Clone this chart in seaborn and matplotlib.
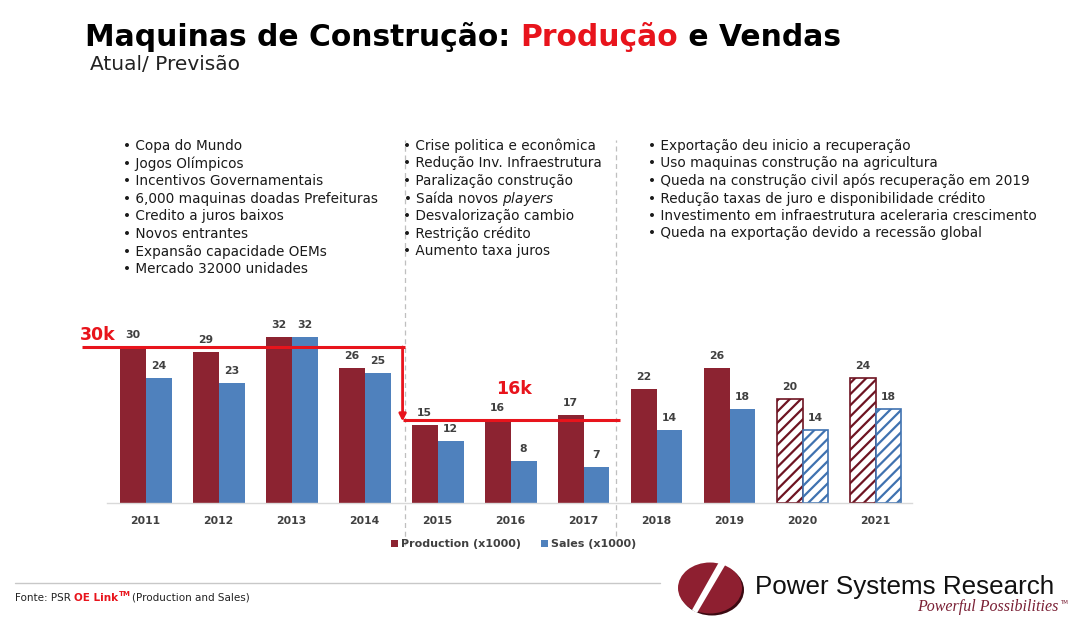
import matplotlib
matplotlib.use("Agg")
import matplotlib.pyplot as plt
import seaborn as sns
import pandas as pd
from matplotlib.patches import Ellipse, Polygon, Patch
from matplotlib.lines import Line2D

# ---------------- data ----------------
years = ["2011", "2012", "2013", "2014", "2015", "2016", "2017", "2018", "2019", "2020", "2021"]
production = [30, 29, 32, 26, 15, 16, 17, 22, 26, 20, 24]
sales = [24, 23, 32, 25, 12, 8, 7, 14, 18, 14, 18]
forecast_years = ["2020", "2021"]
series_names = ["Production (x1000)", "Sales (x1000)"]
level_high = 30
level_low = 16
level_labels = ["30k", "16k"]

bullets_1 = ["Copa do Mundo", "Jogos Olímpicos", "Incentivos Governamentais",
             "6,000 maquinas doadas Prefeituras", "Credito a juros baixos",
             "Novos entrantes", "Expansão capacidade OEMs", "Mercado 32000 unidades"]
bullets_2 = ["Crise politica e econômica", "Redução Inv. Infraestrutura",
             "Paralização construção", "Saída novos $\\it{players}$",
             "Desvalorização cambio", "Restrição crédito", "Aumento taxa juros"]
bullets_3 = ["Exportação deu inicio a recuperação",
             "Uso maquinas construção na agricultura",
             "Queda na construção civil após recuperação em 2019",
             "Redução taxas de juro e disponibilidade crédito",
             "Investimento em infraestrutura aceleraria crescimento",
             "Queda na exportação devido a recessão global"]

df = pd.DataFrame({
    "year": years * 2,
    "series": [series_names[0]] * len(years) + [series_names[1]] * len(years),
    "value": production + sales,
})

# ---------------- style ----------------
W, H = 1080, 627
PROD_C = "#8c2331"
SALES_C = "#4f81bd"
RED = "#e8141c"
GRAY_TXT = "#404040"

sns.set_theme(style="white")
plt.rcParams["font.family"] = ["DejaVu Sans"]
plt.rcParams["hatch.linewidth"] = 1.6

def px(x):
    return x / W

def py(y):
    return 1 - y / H

fig = plt.figure(figsize=(W / 100, H / 100), dpi=100)
fig.patch.set_facecolor("white")

ax_bottom, ax_top = 503, 295
ax_left, ax_right = 107, 912
ax = fig.add_axes([px(ax_left), py(ax_bottom), (ax_right - ax_left) / W, (ax_bottom - ax_top) / H])

sns.barplot(data=df, x="year", y="value", hue="series", order=years,
            hue_order=series_names, palette=[PROD_C, SALES_C], width=0.71,
            saturation=1, ax=ax, legend=False, edgecolor="none", linewidth=0)

hatch_edge = ["#6e1422", "#3f72b0"]
for ci, cont in enumerate(ax.containers):
    for yi, bar in enumerate(cont.patches):
        if years[yi] in forecast_years:
            bar.set_facecolor("white")
            bar.set_edgecolor(hatch_edge[ci])
            bar.set_hatch("///")
            bar.set_linewidth(1.2)
    ax.bar_label(cont, fmt="%d", padding=5, fontsize=7.8, fontweight="bold", color=GRAY_TXT)

ax.set_xlim(-0.53, 10.5)
ax.set_ylim(0, (ax_bottom - ax_top) / 5.2)
ax.set_xlabel("")
ax.set_ylabel("")
ax.set_yticks([])
for s in ["left", "right", "top"]:
    ax.spines[s].set_visible(False)
ax.spines["bottom"].set_color("#d9d9d9")
ax.spines["bottom"].set_linewidth(1)
ax.tick_params(axis="x", length=0, pad=9)
for t in ax.get_xticklabels():
    t.set_fontsize(7.8)
    t.set_fontweight("bold")
    t.set_color(GRAY_TXT)

# dashed separators (x in data, y in axes fraction)
trans = ax.get_xaxis_transform()
for xs, y0 in [(3.55, -0.2), (6.45, -0.16)]:
    ax.plot([xs, xs], [y0, (ax_bottom - 140) / (ax_bottom - ax_top)], transform=trans,
            color="#bfbfbf", lw=0.9, ls=(0, (4, 3)), clip_on=False, zorder=0)

# red level lines
x_left = (82 - 146) / 73
x_step = 3.52
x_end = 6.5
ax.plot([x_left, x_step + 0.03], [level_high, level_high], color=RED, lw=2.2, clip_on=False, zorder=5,
        solid_capstyle="butt")
ax.annotate("", xy=(x_step, level_low - 0.3), xytext=(x_step, level_high),
            arrowprops=dict(arrowstyle="-|>", color=RED, lw=2.0, mutation_scale=10,
                            shrinkA=0, shrinkB=0), zorder=5, annotation_clip=False)
ax.plot([x_step, x_end], [level_low, level_low], color=RED, lw=2.2, clip_on=False, zorder=5,
        solid_capstyle="butt")
ax.text(x_left - 0.03, level_high + 0.5, level_labels[0], color=RED, fontsize=12.5, fontweight="bold",
        ha="left", va="bottom")
ax.text(5.05, 22.0, level_labels[1], color=RED, fontsize=12.5, fontweight="bold",
        ha="center", va="center")

# legend
handles = [Patch(facecolor=PROD_C, edgecolor="none"), Patch(facecolor=SALES_C, edgecolor="none")]
leg = fig.legend(handles, series_names, loc="center", bbox_to_anchor=(px(514), py(544)), ncol=2,
                 frameon=False, handlelength=0.6, handleheight=0.6, handletextpad=0.3,
                 columnspacing=1.8, prop=dict(size=8, weight="bold"))
for t in leg.get_texts():
    t.set_color(GRAY_TXT)

# ---------------- titles ----------------
fig.canvas.draw()
renderer = fig.canvas.get_renderer()

def chain(pieces, x0, y, **common):
    x = x0
    arts = []
    for txt, kw in pieces:
        k = dict(common)
        k.update(kw)
        t = fig.text(px(x), py(y), txt, ha="left", va="baseline", **k)
        bb = t.get_window_extent(renderer)
        x += bb.width
        arts.append(t)
    return arts, x

title_pieces = [("Maquinas de Construção: ", dict(color="black")),
                ("Produção", dict(color=RED)),
                (" e Vendas", dict(color="black"))]
# fit title width to reference (~757 px)
fs = 20
tmp, xe = chain(title_pieces, 85, 46, fontsize=fs, fontweight="bold")
wtot = xe - 85
for t in tmp:
    t.remove()
fs = fs * 757 / wtot
chain(title_pieces, 85, 46, fontsize=fs, fontweight="bold")

fig.text(px(90), py(70), "Atual/ Previsão", fontsize=14.5, color="#222222", ha="left", va="baseline")

# ---------------- bullet columns ----------------
def bullets(lines, x, y0, dy):
    for i, line in enumerate(lines):
        fig.text(px(x), py(y0 + i * dy), "• " + line, fontsize=9.8,
                 color="#1a1a1a", ha="left", va="center")

bullets(bullets_1, 123, 146, 17.6)
bullets(bullets_2, 403, 146, 17.5)
bullets(bullets_3, 648, 146, 17.5)

# ---------------- footer ----------------
fig.add_artist(Line2D([px(15), px(660)], [py(583), py(583)], color="#c8c8c8", lw=1))
_, xe = chain([("Fonte: PSR ", dict(color="#222222")),
               ("OE Link", dict(color=RED, fontweight="bold"))], 15, 601, fontsize=7.5)
xtm = xe + 0.5
ttm = fig.text(px(xtm), py(596), "TM", fontsize=5, color=RED, fontweight="bold", ha="left", va="baseline")
wtm = ttm.get_window_extent(renderer).width
fig.text(px(xtm + wtm + 1), py(601), "(Production and Sales)", fontsize=7.5, color="#222222",
         ha="left", va="baseline")

# logo
fig.add_artist(Ellipse((px(712), py(590)), 64 / W, 51 / H, facecolor="#3b0a12", edgecolor="none"))
fig.add_artist(Ellipse((px(710), py(588)), 64 / W, 51 / H, facecolor="#8e1f30", edgecolor="none"))
fig.add_artist(Polygon([(px(719), py(562)), (px(727), py(562)), (px(697), py(613)), (px(692), py(610))],
                       closed=True, facecolor="white", edgecolor="none"))

t_psr = fig.text(px(755), py(594), "Power Systems Research", fontsize=20, color="#111111",
                 family="Liberation Sans", ha="left", va="baseline")
wps = t_psr.get_window_extent(renderer).width
t_psr.set_fontsize(20 * 298 / wps)
fig.text(px(1058), py(611), "Powerful Possibilities", fontsize=11.5, color="#7a2035",
         family="Liberation Serif", style="italic", ha="right", va="baseline")
fig.text(px(1060), py(604), "TM", fontsize=4, color="#7a2035", ha="left", va="baseline")

fig.savefig("out.png", dpi=100, facecolor="white")
